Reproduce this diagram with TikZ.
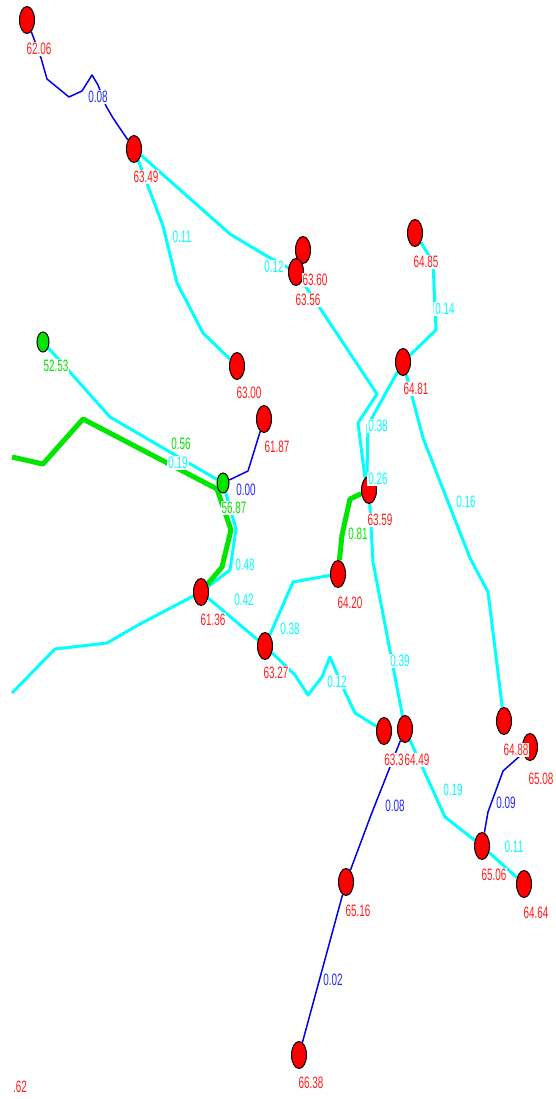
\documentclass[tikz,border=0pt]{standalone}
\usepackage{fontspec}
\setmainfont{Liberation Sans}
\usetikzlibrary{shapes.geometric,backgrounds}
\definecolor{cy}{RGB}{0,255,255}
\definecolor{gr}{RGB}{0,230,0}
\definecolor{bl}{RGB}{0,0,235}
\definecolor{rd}{RGB}{255,0,0}
\definecolor{lrd}{RGB}{255,30,30}
\definecolor{lblue}{RGB}{40,40,255}
\newcommand{\nx}[1]{\scalebox{0.6}[1]{#1}}
\tikzset{
  rnode/.style={ellipse, draw=black, line width=1pt, fill=rd, minimum width=15pt, minimum height=27pt, inner sep=0pt},
  gnode/.style={ellipse, draw=black, line width=1pt, fill=gr, minimum width=12pt, minimum height=20pt, inner sep=0pt},
  tlab/.style={fill=white, inner sep=1pt, font=\fontsize{16.5}{18}\selectfont},
  nlab/.style={tlab, text=lrd},
  clab/.style={tlab, text=cy},
  glab/.style={tlab, text=gr},
  blab/.style={tlab, text=lblue},
  cyedge/.style={draw=cy, line width=3pt, line join=round},
  gredge/.style={draw=gr, line width=5pt, line join=round},
  bledge/.style={draw=bl, line width=1.5pt, line join=round},
}
\begin{document}
\begin{tikzpicture}[x=1pt,y=-1pt]
\useasboundingbox (0,0) rectangle (555,1099);
% nodes
\node[rnode] (n6206) at (27,20) {};
\node[rnode] (n6349) at (134,149) {};
\node[rnode] (n6360) at (303,250) {};
\node[rnode] (n6356) at (296,272) {};
\node[rnode] (n6485) at (415,233) {};
\node[rnode] (n6481) at (403,362) {};
\node[rnode] (n6300) at (237,366) {};
\node[rnode] (n6187) at (264,419) {};
\node[gnode] (n5253) at (43,342) {};
\node[gnode] (n5687) at (223,483) {};
\node[rnode] (n6359) at (369,490) {};
\node[rnode] (n6420) at (338,574) {};
\node[rnode] (n6136) at (201,592) {};
\node[rnode] (n6327) at (265,646) {};
\node[rnode] (n6330) at (384,731) {};
\node[rnode] (n6449) at (405,729) {};
\node[rnode] (n6488) at (504,721) {};
\node[rnode] (n6508) at (530,747) {};
\node[rnode] (n6506) at (482,846) {};
\node[rnode] (n6464) at (524,884) {};
\node[rnode] (n6516) at (346,882) {};
\node[rnode] (n6638) at (299,1055) {};
\coordinate (gl) at (12,457);
\coordinate (cl) at (12,693);
% edges behind nodes
\begin{scope}[on background layer]
  % cyan
  \draw[cyedge] (n6349) -- (163,226) -- (177,283) -- (203,333) -- (n6300);
  \draw[cyedge] (n6349) -- (230,234) -- (265,255) -- (n6356);
  \draw[cyedge] (n6356) -- (377,394) -- (358,423) -- (365,478) -- (n6359);
  \draw[cyedge] (n6481) -- (368,425) -- (367,475) -- (n6359);
  \draw[cyedge] (n6485) -- (433,262) -- (436,330) -- (n6481);
  \draw[cyedge] (n6481) -- (423,438) -- (470,558) -- (488,592) -- (n6488);
  \draw[cyedge] (n5253) -- (110,417) -- (n5687);
  \draw[cyedge] (n5687) -- (236,529) -- (230,570) -- (n6136);
  \draw[cyedge] (n6136) -- (140,624) -- (107,643) -- (55,649) -- (cl);
  \draw[cyedge] (n6136) -- (n6327);
  \draw[cyedge] (n6327) -- (293,582) -- (n6420);
  \draw[cyedge] (n6327) -- (295,675) -- (308,695) -- (322,677) -- (330,657) -- (345,692) -- (355,713) -- (n6330);
  \draw[cyedge] (n6359) -- (373,562) -- (n6449);
  \draw[cyedge] (n6449) -- (445,817) -- (n6506);
  \draw[cyedge] (n6506) -- (n6464);
  % green
  \draw[gredge] (gl) -- (43,464) -- (83,419) -- (217,489) -- (231,530) -- (222,567) -- (n6136);
  \draw[gredge] (n6359) -- (350,499) -- (342,535) -- (n6420);
  % blue
  \draw[bledge] (n6206) -- (41,58) -- (47,79) -- (69,97) -- (82,91) -- (92,75) -- (98,85) -- (106,106) -- (113,118) -- (n6349);
  \draw[bledge] (n5687) -- (248,471) -- (n6187);
  \draw[bledge] (n6449) -- (371,815) -- (n6516);
  \draw[bledge] (n6506) -- (488,812) -- (503,771) -- (n6508);
  \draw[bledge] (n6516) -- (n6638);
\end{scope}
% edge labels
\node[blab] (e1) at (98,97) {\nx{0.08}};
\node[clab] (e2) at (182,237) {\nx{0.11}};
\node[clab] (e3) at (274,267) {\nx{0.12}};
\node[clab] (e4) at (445,309) {\nx{0.14}};
\node[clab] (e5) at (378,426) {\nx{0.38}};
\node[clab] (e6) at (378,479) {\nx{0.26}};
\node[clab] (e7) at (466,502) {\nx{0.16}};
\node[glab] (e8) at (181,444) {\nx{0.56}};
\node[clab] (e9) at (178,463) {\nx{0.19}};
\node[blab] (e10) at (246,490) {\nx{0.00}};
\node[glab] (e11) at (358,534) {\nx{0.81}};
\node[clab] (e12) at (245,565) {\nx{0.48}};
\node[clab] (e13) at (244,600) {\nx{0.42}};
\node[clab] (e14) at (290,629) {\nx{0.38}};
\node[clab] (e15) at (337,682) {\nx{0.12}};
\node[clab] (e16) at (400,661) {\nx{0.39}};
\node[clab] (e17) at (453,790) {\nx{0.19}};
\node[blab] (e18) at (395,806) {\nx{0.08}};
\node[blab] (e19) at (506,803) {\nx{0.09}};
\node[clab] (e20) at (514,847) {\nx{0.11}};
\node[blab] (e21) at (333,980) {\nx{0.02}};
% node labels
\node[nlab] (l6206) at (39,49) {\nx{62.06}};
\node[nlab] (l6349) at (146,177) {\nx{63.49}};
\node[nlab] (l6360) at (315,280) {\nx{63.60}};
\node[nlab] (l6356) at (308,300) {\nx{63.56}};
\node[nlab] (l6485) at (426,262) {\nx{64.85}};
\node[nlab] (l6481) at (416,389) {\nx{64.81}};
\node[nlab] (l6300) at (249,393) {\nx{63.00}};
\node[nlab] (l6187) at (277,447) {\nx{61.87}};
\node[glab] (l5253) at (56,366) {\nx{52.53}};
\node[glab] (l5687) at (234,508) {\nx{56.87}};
\node[nlab] (l6359) at (380,520) {\nx{63.59}};
\node[nlab] (l6420) at (350,603) {\nx{64.20}};
\node[nlab] (l6136) at (213,620) {\nx{61.36}};
\node[nlab] (l6327) at (276,673) {\nx{63.27}};
\node[nlab] (l6330) at (394,760) {\nx{63.3}};
\node[nlab] (l6449) at (417,760) {\nx{64.49}};
\node[nlab] (l6488) at (516,750) {\nx{64.88}};
\node[nlab] (l6508) at (541,779) {\nx{65.08}};
\node[nlab] (l6506) at (494,875) {\nx{65.06}};
\node[nlab] (l6464) at (536,913) {\nx{64.64}};
\node[nlab] (l6516) at (358,911) {\nx{65.16}};
\node[nlab] (l6638) at (311,1083) {\nx{66.38}};
\node[nlab] (l662) at (20,1087) {\nx{.62}};
\end{tikzpicture}
\end{document}
